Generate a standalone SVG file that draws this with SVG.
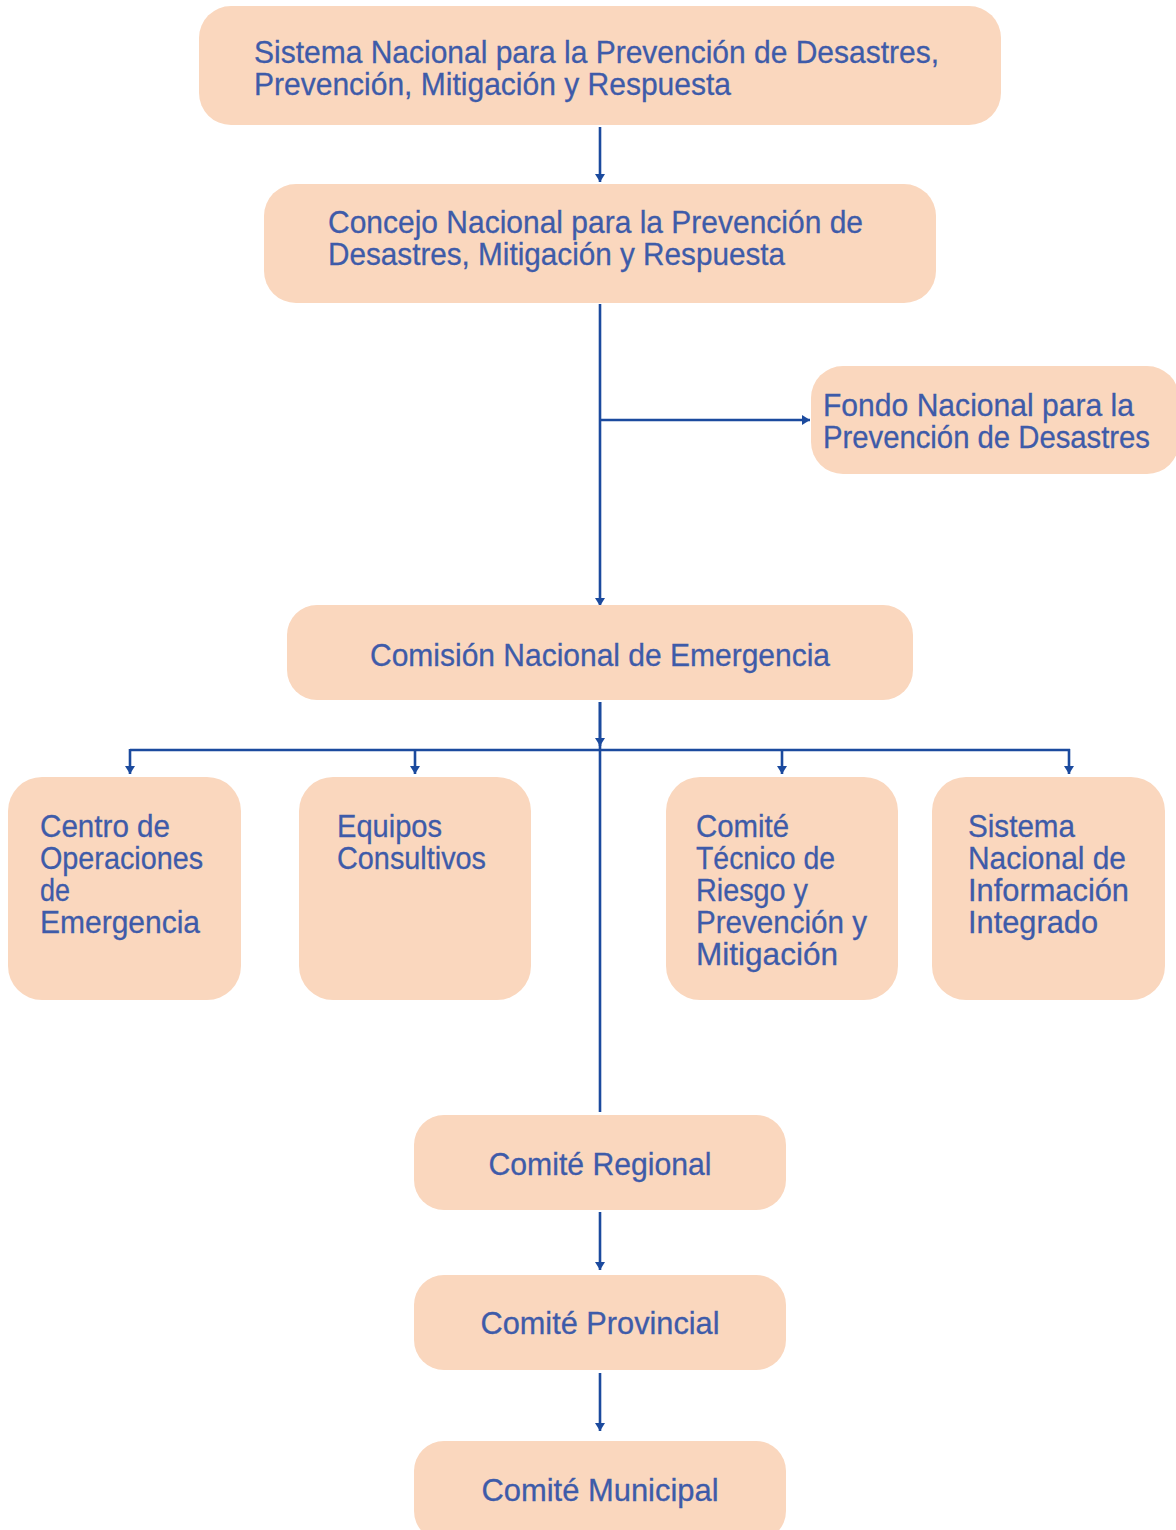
<svg xmlns="http://www.w3.org/2000/svg" width="1176" height="1530" viewBox="0 0 1176 1530">
<style>
.box{fill:#FAD7BE;}
.t{font-family:"Liberation Sans","DejaVu Sans",sans-serif;font-size:32px;fill:#3E5BA9;stroke:#3E5BA9;stroke-width:0.3;}
.c{text-anchor:middle;}
.ln{fill:none;stroke:#1B4A9E;stroke-width:2.6;}
</style>
<defs>
<marker id="ah" viewBox="0 0 8 10" refX="8" refY="5" markerWidth="8" markerHeight="10" orient="auto" markerUnits="userSpaceOnUse">
<path d="M0,0 L8,5 L0,10 z" fill="#1B4A9E"/>
</marker>
</defs>
<rect width="1176" height="1530" fill="#ffffff"/>
<g id="connectors">
<path class="ln" d="M600,127 V182" marker-end="url(#ah)"/>
<path class="ln" d="M600,304 V606" marker-end="url(#ah)"/>
<path class="ln" d="M600,420 H810" marker-end="url(#ah)"/>
<path class="ln" d="M600,702 V1112"/>
<path class="ln" d="M600,702 V746" marker-end="url(#ah)"/>
<path class="ln" d="M130,750 H1070"/>
<path class="ln" d="M130,749 V774" marker-end="url(#ah)"/>
<path class="ln" d="M415,750 V774" marker-end="url(#ah)"/>
<path class="ln" d="M782,750 V774" marker-end="url(#ah)"/>
<path class="ln" d="M1069,749 V774" marker-end="url(#ah)"/>
<path class="ln" d="M600,1212 V1270" marker-end="url(#ah)"/>
<path class="ln" d="M600,1373 V1431" marker-end="url(#ah)"/>
</g>
<g id="n1">
<rect class="box" x="199" y="6" width="802" height="119" rx="32"/>
<text class="t" x="254" y="63" textLength="685" lengthAdjust="spacingAndGlyphs">Sistema Nacional para la Prevención de Desastres,</text>
<text class="t" x="254" y="95" textLength="477" lengthAdjust="spacingAndGlyphs">Prevención, Mitigación y Respuesta</text>
</g>
<g id="n2">
<rect class="box" x="264" y="184" width="672" height="119" rx="32"/>
<text class="t" x="328" y="233" textLength="535" lengthAdjust="spacingAndGlyphs">Concejo Nacional para la Prevención de</text>
<text class="t" x="328" y="265" textLength="457" lengthAdjust="spacingAndGlyphs">Desastres, Mitigación y Respuesta</text>
</g>
<g id="n3">
<rect class="box" x="811" y="366" width="368" height="108" rx="32"/>
<text class="t" x="823" y="416" textLength="311" lengthAdjust="spacingAndGlyphs">Fondo Nacional para la</text>
<text class="t" x="823" y="448" textLength="327" lengthAdjust="spacingAndGlyphs">Prevención de Desastres</text>
</g>
<g id="n4">
<rect class="box" x="287" y="605" width="626" height="95" rx="30"/>
<text class="t c" x="600" y="666" textLength="460" lengthAdjust="spacingAndGlyphs">Comisión Nacional de Emergencia</text>
</g>
<g id="n5">
<rect class="box" x="8" y="777" width="233" height="223" rx="34"/>
<text class="t" x="40" y="837" textLength="130" lengthAdjust="spacingAndGlyphs">Centro de</text>
<text class="t" x="40" y="869" textLength="163" lengthAdjust="spacingAndGlyphs">Operaciones</text>
<text class="t" x="40" y="901" textLength="30" lengthAdjust="spacingAndGlyphs">de</text>
<text class="t" x="40" y="933" textLength="160" lengthAdjust="spacingAndGlyphs">Emergencia</text>
</g>
<g id="n6">
<rect class="box" x="299" y="777" width="232" height="223" rx="34"/>
<text class="t" x="337" y="837" textLength="105" lengthAdjust="spacingAndGlyphs">Equipos</text>
<text class="t" x="337" y="869" textLength="149" lengthAdjust="spacingAndGlyphs">Consultivos</text>
</g>
<g id="n7">
<rect class="box" x="666" y="777" width="232" height="223" rx="34"/>
<text class="t" x="696" y="837" textLength="93" lengthAdjust="spacingAndGlyphs">Comité</text>
<text class="t" x="696" y="869" textLength="139" lengthAdjust="spacingAndGlyphs">Técnico de</text>
<text class="t" x="696" y="901" textLength="112" lengthAdjust="spacingAndGlyphs">Riesgo y</text>
<text class="t" x="696" y="933" textLength="171" lengthAdjust="spacingAndGlyphs">Prevención y</text>
<text class="t" x="696" y="965" textLength="142" lengthAdjust="spacingAndGlyphs">Mitigación</text>
</g>
<g id="n8">
<rect class="box" x="932" y="777" width="233" height="223" rx="34"/>
<text class="t" x="968" y="837" textLength="107" lengthAdjust="spacingAndGlyphs">Sistema</text>
<text class="t" x="968" y="869" textLength="158" lengthAdjust="spacingAndGlyphs">Nacional de</text>
<text class="t" x="968" y="901" textLength="161" lengthAdjust="spacingAndGlyphs">Información</text>
<text class="t" x="968" y="933" textLength="130" lengthAdjust="spacingAndGlyphs">Integrado</text>
</g>
<g id="n9">
<rect class="box" x="414" y="1115" width="372" height="95" rx="30"/>
<text class="t c" x="600" y="1175" textLength="223" lengthAdjust="spacingAndGlyphs">Comité Regional</text>
</g>
<g id="n10">
<rect class="box" x="414" y="1275" width="372" height="95" rx="30"/>
<text class="t c" x="600" y="1334" textLength="239" lengthAdjust="spacingAndGlyphs">Comité Provincial</text>
</g>
<g id="n11">
<rect class="box" x="414" y="1441" width="372" height="100" rx="30"/>
<text class="t c" x="600" y="1501" textLength="237" lengthAdjust="spacingAndGlyphs">Comité Municipal</text>
</g>
</svg>
